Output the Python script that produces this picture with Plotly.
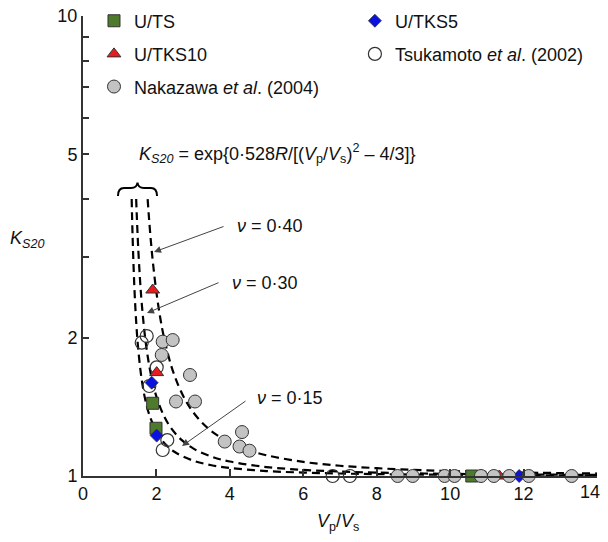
import plotly.graph_objects as go

# ---------------- data ----------------
ts_x = [1.898, 1.988, 10.59]
ts_k = [1.439, 1.270, 1.0]

tks10_x = [1.898, 2.007, 11.34]
tks10_k = [2.537, 1.678, 1.0]

tks5_x = [1.871, 2.007, 11.88]
tks5_k = [1.595, 1.224, 1.0]

tsuka_x = [1.735, 1.599, 2.007, 1.806, 2.296, 2.171, 6.80, 7.27]
tsuka_k = [2.015, 1.949, 1.723, 1.569, 1.197, 1.139, 1.0, 1.0]

naka_x = [2.170, 2.443, 2.144, 2.914, 2.533, 3.051, 4.331, 3.860, 4.263, 4.535,
          8.57, 8.98, 9.85, 10.12, 10.84, 11.19, 11.61, 12.14, 13.31]
naka_k = [1.959, 1.975, 1.833, 1.658, 1.452, 1.452, 1.246, 1.188, 1.159, 1.135,
          1.0, 1.0, 1.0, 1.0, 1.0, 1.0, 1.0, 1.0, 1.0]

# dashed theoretical curves
c15_x = [1.326, 1.35, 1.4, 1.45, 1.5, 1.6, 1.7, 1.8, 2.0, 2.2, 2.5, 3.0, 3.5, 4, 5, 6, 7, 8, 10, 12, 14]
c15_k = [4.00, 3.340, 2.564, 2.153, 1.903, 1.618, 1.461, 1.363, 1.248, 1.183, 1.1275, 1.080,
         1.0555, 1.0411, 1.0252, 1.0172, 1.0125, 1.0095, 1.0060, 1.0041, 1.0030]

c30_x = [1.448, 1.47, 1.5, 1.55, 1.6, 1.7, 1.8, 1.9, 2.0, 2.2, 2.4, 2.7, 3.0, 3.5, 4, 5, 6, 7, 8, 10, 12, 14]
c30_k = [4.00, 3.600, 3.178, 2.695, 2.373, 1.976, 1.744, 1.593, 1.488, 1.353, 1.2706, 1.1948,
         1.1483, 1.1020, 1.0750, 1.0458, 1.0311, 1.0225, 1.0171, 1.0108, 1.0075, 1.0055]

c40_x = [1.761, 1.8, 1.85, 1.9, 2.0, 2.1, 2.2, 2.4, 2.6, 2.8, 3.0, 3.3, 3.6, 4, 4.5, 5, 6, 7, 8, 9, 10, 12, 14]
c40_k = [4.00, 3.615, 3.231, 2.933, 2.506, 2.217, 2.011, 1.739, 1.571, 1.457, 1.3766, 1.2922,
         1.2345, 1.1818, 1.1383, 1.1091, 1.0732, 1.0527, 1.0399, 1.0312, 1.0251, 1.0173, 1.0127]

x_ticks = [0, 2, 4, 6, 8, 10, 12, 14]
x_ticktext = ["0", "2", "4", "6", "8", "10", "12", ""]   # "14" is drawn separately so it stays on the page
x_last_label = "14"
y_ticks = [1, 2, 3, 4, 5, 6, 7, 8, 9, 10]
y_ticktext = ["1", "2", "", "", "5", "", "", "", "", "10"]

FONT = "Liberation Sans, Arial, sans-serif"
EDGE = "#333333"

fig = go.Figure()

for cx, ck in [(c15_x, c15_k), (c30_x, c30_k), (c40_x, c40_k)]:
    fig.add_trace(go.Scatter(x=cx, y=ck, mode="lines",
                             line=dict(color="black", width=2.2, dash="8px,5px", shape="spline"),
                             showlegend=False, hoverinfo="skip", cliponaxis=False))

fig.add_trace(go.Scatter(x=tsuka_x, y=tsuka_k, mode="markers", name="Tsukamoto <i>et al</i>. (2002)",
                         legend="legend4", cliponaxis=False,
                         marker=dict(symbol="circle", size=13, color="rgba(255,255,255,0)",
                                     line=dict(color=EDGE, width=1.2))))
fig.add_trace(go.Scatter(x=ts_x, y=ts_k, mode="markers", name="U/TS", legend="legend", cliponaxis=False,
                         marker=dict(symbol="square", size=12, color="#4e7a2c",
                                     line=dict(color=EDGE, width=1))))
fig.add_trace(go.Scatter(x=tks10_x, y=tks10_k, mode="markers", name="U/TKS10", legend="legend3",
                         cliponaxis=False,
                         marker=dict(symbol="triangle-up", size=12, color="#e81c1c",
                                     line=dict(color=EDGE, width=1))))
fig.add_trace(go.Scatter(x=tks5_x, y=tks5_k, mode="markers", name="U/TKS5", legend="legend2",
                         cliponaxis=False,
                         marker=dict(symbol="diamond", size=10, color="#0b12e0",
                                     line=dict(color=EDGE, width=0.8))))
fig.add_trace(go.Scatter(x=naka_x, y=naka_k, mode="markers", name="Nakazawa <i>et al</i>. (2004)",
                         legend="legend5", cliponaxis=False,
                         marker=dict(symbol="circle", size=13, color="#c3c3c3",
                                     line=dict(color=EDGE, width=1))))

# brace over the curve tops (x in data, y in paper units)
brace = ("M 0.953,0.6087 Q 0.953,0.6261 1.117,0.6261 L 1.307,0.6261 "
         "Q 1.471,0.6261 1.484,0.638 Q 1.498,0.6261 1.661,0.6261 "
         "L 1.852,0.6261 Q 2.016,0.6261 2.016,0.6087")
fig.add_shape(type="path", path=brace, xref="x", yref="paper", line=dict(color="black", width=2))

ann = []
# arrows
for (tx, ty, ax, ay) in [(1.934, 0.487, 71, -26), (1.743, 0.3543, 73, -31), (2.697, 0.0652, 65, -46)]:
    ann.append(dict(x=tx, y=ty, xref="x", yref="y", text="", showarrow=True, ax=ax, ay=ay,
                    arrowhead=2, arrowsize=1.4, arrowwidth=1, arrowcolor="#444"))
# nu labels
for (lx, ly, t) in [(4.14, 0.543, "<i>ν</i> = 0·40"), (4.0, 0.4196, "<i>ν</i> = 0·30"),
                    (4.685, 0.170, "<i>ν</i> = 0·15")]:
    ann.append(dict(x=lx, y=ly, xref="x", yref="y", text=t, showarrow=False, xanchor="left",
                    yanchor="middle", font=dict(size=18, family=FONT, color="#111")))
# formula
ann.append(dict(x=1.47, y=0.702, xref="x", yref="y", xanchor="left", yanchor="middle", showarrow=False,
                text="<i>K</i><sub><i>S20</i></sub> = exp{0·528<i>R</i>/[(<i>V</i><sub>p</sub>/<i>V</i><sub>s</sub>)<sup>2</sup> – 4/3]}",
                font=dict(size=18, family=FONT, color="#111")))
# axis titles
ann.append(dict(x=-0.109, y=0.515, xref="paper", yref="paper", showarrow=False, xanchor="center",
                yanchor="middle", text="<i>K</i><sub><i>S20</i></sub>",
                font=dict(size=18, family=FONT, color="#111")))
ann.append(dict(x=0.496, y=-0.10, xref="paper", yref="paper", showarrow=False, xanchor="center",
                yanchor="middle", text="<i>V</i><sub>p</sub>/<i>V</i><sub>s</sub>",
                font=dict(size=18, family=FONT, color="#111")))
# last x tick label, nudged left so it is not cut by the page edge
ann.append(dict(x=x_ticks[-1], y=-0.034, xref="x", yref="paper", showarrow=False, xanchor="center",
                yanchor="middle", xshift=-7, text=x_last_label,
                font=dict(size=18, family=FONT, color="#111")))

leg_common = dict(orientation="v", xanchor="left", yanchor="middle", bgcolor="rgba(0,0,0,0)",
                  borderwidth=0, font=dict(size=18, family=FONT, color="#111"))
xl, xr = 0.0214, 0.529
r1, r2, r3 = 0.989, 0.917, 0.846

# the page body adds an 8 px offset, so the figure is shrunk and its left/top margins reduced by 8 px
fig.update_layout(
    width=600, height=526,
    margin=dict(l=75, r=11, t=8, b=58, autoexpand=False),
    paper_bgcolor="white", plot_bgcolor="white",
    font=dict(family=FONT, size=18, color="#111"),
    xaxis=dict(range=[0, 14], tickvals=x_ticks, ticktext=x_ticktext, ticks="inside", ticklen=7,
               tickwidth=1.5, tickcolor=EDGE, showline=True, linecolor=EDGE, linewidth=2,
               showgrid=False, zeroline=False, ticklabeloverflow="allow",
               tickfont=dict(size=18, family=FONT, color="#111")),
    yaxis=dict(type="log", range=[0, 1], tickvals=y_ticks, ticktext=y_ticktext, ticks="inside",
               ticklen=6, tickwidth=1.5, tickcolor=EDGE, showline=True, linecolor=EDGE, linewidth=2,
               showgrid=False, zeroline=False, ticklabeloverflow="allow",
               tickfont=dict(size=18, family=FONT, color="#111")),
    legend=dict(x=xl, y=r1, **leg_common),
    legend2=dict(x=xr, y=r1, **leg_common),
    legend3=dict(x=xl, y=r2, **leg_common),
    legend4=dict(x=xr, y=r2, **leg_common),
    legend5=dict(x=xl, y=r3, **leg_common),
    annotations=ann,
)

fig.write_html("out.html")
